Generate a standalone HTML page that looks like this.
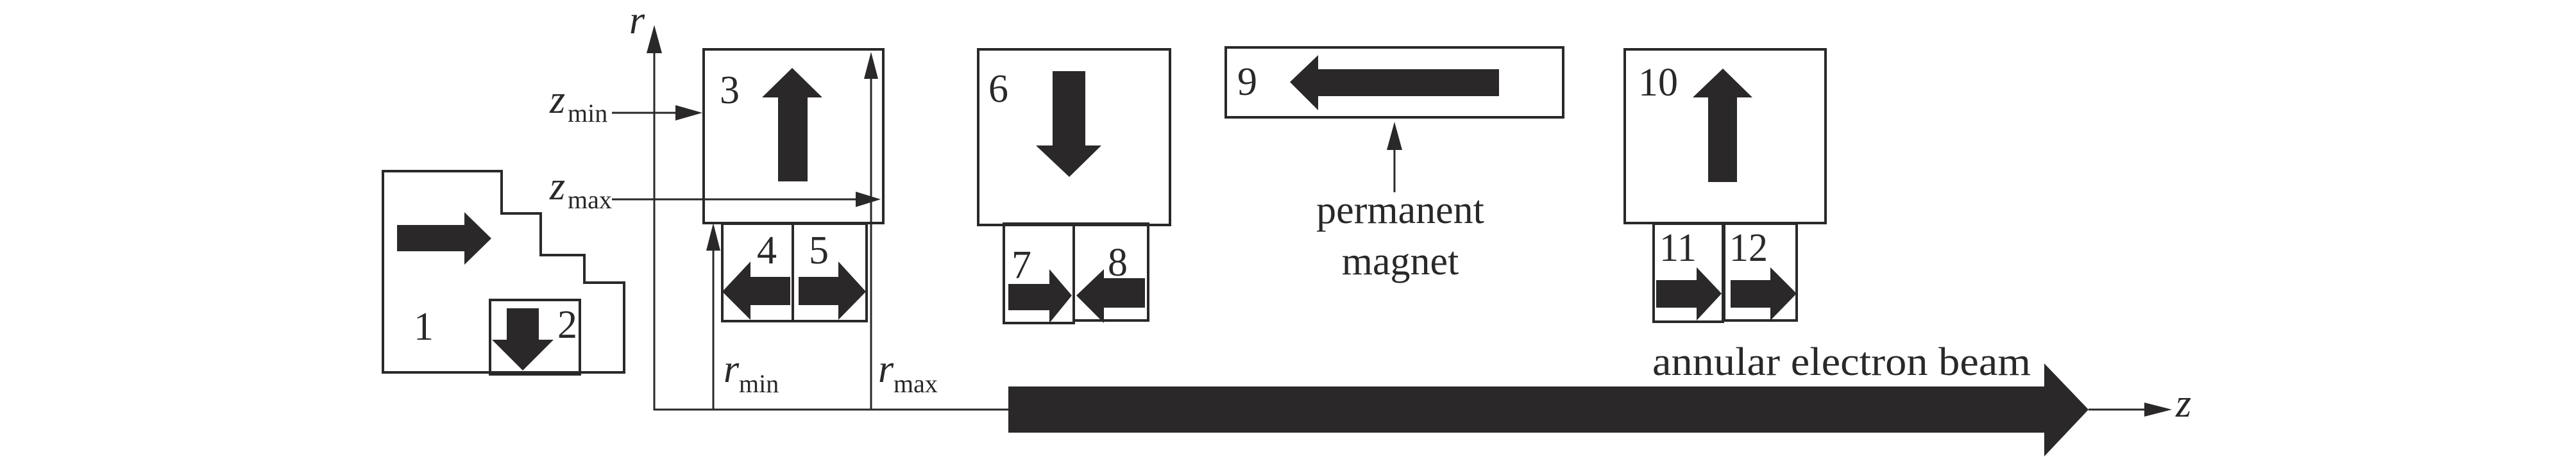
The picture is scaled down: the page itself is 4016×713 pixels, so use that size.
<!DOCTYPE html>
<html><head><meta charset="utf-8"><style>html,body{margin:0;padding:0;background:#fff}svg{display:block}</style></head>
<body>
<svg width="4016" height="713" viewBox="0 0 4016 713" xmlns="http://www.w3.org/2000/svg" font-family="'Liberation Serif', serif" fill="#2a2829">
<g fill="none" stroke="#2a2829" stroke-width="4">
<!-- box 1 -->
<polygon points="597,267 782,267 782,333 843,333 843,398 911,398 911,441 973,441 973,581 597,581"/>
<rect x="764" y="468" width="140" height="116"/>
<rect x="1097" y="77" width="280" height="271"/>
<rect x="1126" y="349" width="110" height="152"/>
<rect x="1236" y="349" width="115" height="152"/>
<rect x="1525" y="77" width="299" height="274"/>
<rect x="1565" y="349" width="109" height="155"/>
<rect x="1674" y="349" width="116" height="151"/>
<rect x="1911" y="74" width="526" height="109"/>
<rect x="2533" y="77" width="313" height="271"/>
<rect x="2578" y="349" width="108" height="153"/>
<rect x="2688" y="349" width="113" height="151"/>
</g>
<g fill="none" stroke="#2a2829" stroke-width="3">
<polyline points="1020,70 1020,639 1572,639"/>
<line x1="3256" y1="639" x2="3350" y2="639"/>
<line x1="954" y1="176" x2="1060" y2="176"/>
<line x1="954" y1="311" x2="1340" y2="311"/>
<line x1="1358" y1="639" x2="1358" y2="110"/>
<line x1="1112" y1="639" x2="1112" y2="380"/>
<line x1="2174" y1="300" x2="2174" y2="225"/>
</g>
<!-- arrowheads of thin lines -->
<polygon points="1020,39 1008,83 1032,83"/>
<polygon points="1095,176 1053,164 1053,188"/>
<polygon points="1373,311 1334,299 1334,323"/>
<polygon points="1358,81 1347,123 1369,123"/>
<polygon points="1112,348 1101,391 1123,391"/>
<polygon points="2174,190 2162,234 2186,234"/>
<polygon points="3386,639 3343,628 3343,650"/>
<!-- thick arrows -->
<polygon points="619,351 724,351 724,331 766,372 724,413 724,392 619,392"/>
<polygon points="790,481 840,481 840,530 863,530 815,578 767,530 790,530"/>
<polygon points="1213,283 1213,152 1188,152 1235,106 1282,152 1259,152 1259,283"/>
<polygon points="1232,432 1170,432 1170,408 1126,455 1170,499 1170,476 1232,476"/>
<polygon points="1245,432 1307,432 1307,408 1350,455 1307,499 1307,476 1245,476"/>
<polygon points="1641,111 1692,111 1692,227 1717,227 1667,276 1615,227 1641,227"/>
<polygon points="1572,443 1636,443 1636,420 1671,461 1636,504 1636,484 1572,484"/>
<polygon points="1785,434 1721,434 1721,420 1678,461 1721,504 1721,480 1785,480"/>
<polygon points="2337,108 2055,108 2055,86 2011,128 2055,172 2055,150 2337,150"/>
<polygon points="2663,284 2663,152 2639,152 2686,107 2732,152 2708,152 2708,284"/>
<polygon points="2582,437 2645,437 2645,417 2684,458 2645,500 2645,480 2582,480"/>
<polygon points="2698,437 2760,437 2760,417 2801,458 2760,500 2760,480 2698,480"/>
<polygon points="1572,603 3187,603 3187,567 3256,639 3187,712 3187,675 1572,675"/>
<!-- numbers -->
<g font-size="62">
<text x="645" y="530">1</text>
<text x="869" y="527">2</text>
<text x="1122" y="161">3</text>
<text x="1180" y="411">4</text>
<text x="1261" y="411">5</text>
<text x="1541" y="159">6</text>
<text x="1577" y="434">7</text>
<text x="1727" y="430">8</text>
<text x="1929" y="148">9</text>
<text x="2554" y="149" textLength="62" lengthAdjust="spacingAndGlyphs">10</text>
<text x="2587" y="407" textLength="58" lengthAdjust="spacingAndGlyphs">11</text>
<text x="2696" y="407" textLength="60" lengthAdjust="spacingAndGlyphs">12</text>
</g>
<g font-size="62" font-style="italic">
<text x="981" y="52">r</text>
<text x="3392" y="650">z</text>
<text x="857" y="176">z</text>
<text x="857" y="311">z</text>
<text x="1128" y="596">r</text>
<text x="1369" y="596">r</text>
</g>
<g font-size="40">
<text x="885" y="190">min</text>
<text x="885" y="325">max</text>
<text x="1152" y="612">min</text>
<text x="1393" y="612">max</text>
</g>
<g font-size="62" text-anchor="middle">
<text x="2183" y="348">permanent</text>
<text x="2183" y="428">magnet</text>
</g>
<text x="2576" y="585" font-size="62" textLength="590" lengthAdjust="spacingAndGlyphs">annular electron beam</text>
</svg>
</body></html>
